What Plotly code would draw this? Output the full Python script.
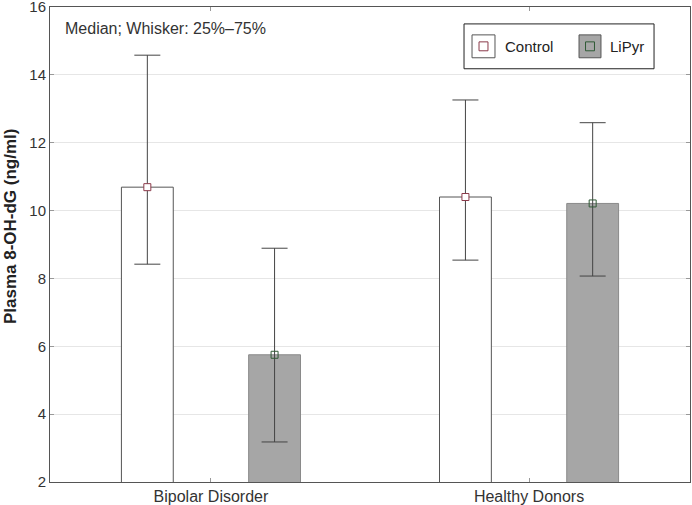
import plotly.graph_objects as go

categories = ["Bipolar Disorder", "Healthy Donors"]
series_names = ["Control", "LiPyr"]
control_median = [10.69, 10.40]
control_q1 = [8.42, 8.54]
control_q3 = [14.58, 13.26]
lipyr_median = [5.75, 10.21]
lipyr_q1 = [3.18, 8.07]
lipyr_q3 = [8.89, 12.59]
y_ticks = [2, 4, 6, 8, 10, 12, 14, 16]

FONT = "Liberation Sans, Arial, sans-serif"
BW = 0.163
OFF = 0.2
FILLS = ["white", "#a6a6a6"]
EDGES = ["#555555", "#8a8a8a"]
MEDIAN_EDGES = ["#8b3a4a", "#2f5a35"]
MEDIAN_FILLS = ["white", "rgba(0,0,0,0)"]

def err(med, lo, hi):
    return dict(type="data", symmetric=False,
                array=[h - m for h, m in zip(hi, med)],
                arrayminus=[m - l for m, l in zip(med, lo)],
                color="#444444", thickness=1, width=13)

fig = go.Figure()
meds = [control_median, lipyr_median]
lows = [control_q1, lipyr_q1]
highs = [control_q3, lipyr_q3]
offs = [-OFF, OFF]
for i in range(2):
    fig.add_trace(go.Bar(
        name=series_names[i], x=categories, y=meds[i],
        width=BW, offset=offs[i] - BW / 2, showlegend=False,
        marker=dict(color=FILLS[i], line=dict(color=EDGES[i], width=1)),
        error_y=err(meds[i], lows[i], highs[i]),
    ))
for i in range(2):
    fig.add_trace(go.Scatter(
        x=categories, y=meds[i], mode="markers", showlegend=False, hoverinfo="skip",
        marker=dict(symbol="square", size=7, color=MEDIAN_FILLS[i],
                    line=dict(color=MEDIAN_EDGES[i], width=1)),
        xaxis="x2" if i == 0 else "x3",
    ))

# legend (drawn in paper coordinates)
shapes = [dict(type="rect", xref="paper", yref="paper",
               x0=0.6469, x1=0.9438, y0=0.8700, y1=0.9644,
               line=dict(color="#222222", width=1), fillcolor="white", layer="above")]
annotations = []
sw_x = [(0.6594, 0.6953), (0.8266, 0.8609)]
txt_x = [0.7078, 0.8719]
yc = 0.9172
half_h = 0.0241
for i in range(2):
    x0, x1 = sw_x[i]
    shapes.append(dict(type="rect", xref="paper", yref="paper", x0=x0, x1=x1,
                       y0=yc - half_h, y1=yc + half_h, layer="above",
                       line=dict(color="#555555", width=1), fillcolor=FILLS[i]))
    xm = (x0 + x1) / 2
    shapes.append(dict(type="rect", xref="paper", yref="paper",
                       x0=xm - 0.0070, x1=xm + 0.0070,
                       y0=yc - 0.0094, y1=yc + 0.0094, layer="above",
                       line=dict(color=MEDIAN_EDGES[i], width=1),
                       fillcolor=MEDIAN_FILLS[i]))
    annotations.append(dict(text=series_names[i], xref="paper", yref="paper",
                            x=txt_x[i], y=yc, xanchor="left", yanchor="middle",
                            showarrow=False, font=dict(size=15, color="#222222")))

annotations.append(dict(text="Median; Whisker: 25%\u201375%", xref="paper", yref="paper",
                        x=0.0203, y=0.9539, xanchor="left", yanchor="middle",
                        showarrow=False, font=dict(size=16, color="#333333")))
annotations.append(dict(text="<b>Plasma 8-OH-dG (ng/ml)</b>", xref="paper", yref="paper",
                        x=-0.0625, y=0.5388, xanchor="center", yanchor="middle",
                        textangle=-90, showarrow=False,
                        font=dict(size=17, color="#222222")))

fig.update_layout(
    width=692, height=505,
    margin=dict(l=50, r=2, t=7, b=23),
    paper_bgcolor="white", plot_bgcolor="white",
    barmode="overlay",
    font=dict(family=FONT, size=14, color="#333333"),
    showlegend=False,
    xaxis=dict(type="category", range=[-0.506, 1.506], automargin=False,
               showline=True, linecolor="#555555", mirror="ticks",
               ticks="inside", ticklen=4, tickcolor="#999999",
               showgrid=False, tickfont=dict(size=16, color="#333333")),
    xaxis2=dict(type="category", range=[-0.506 + OFF, 1.506 + OFF], overlaying="x",
                visible=False),
    xaxis3=dict(type="category", range=[-0.506 - OFF, 1.506 - OFF], overlaying="x",
                visible=False),
    yaxis=dict(range=[2, 16.0001], tickvals=y_ticks, automargin=False,
               ticklabeloverflow="allow",
               showline=True, linecolor="#555555", mirror="ticks",
               ticks="inside", ticklen=4, tickcolor="#999999",
               showgrid=True, gridcolor="#e6e6e6", zeroline=False,
               tickfont=dict(size=15, color="#333333")),
    shapes=shapes,
    annotations=annotations,
)

fig.write_html("out.html", config={"displayModeBar": False},
               post_script="document.body.style.margin='0';document.body.style.overflow='hidden';")
